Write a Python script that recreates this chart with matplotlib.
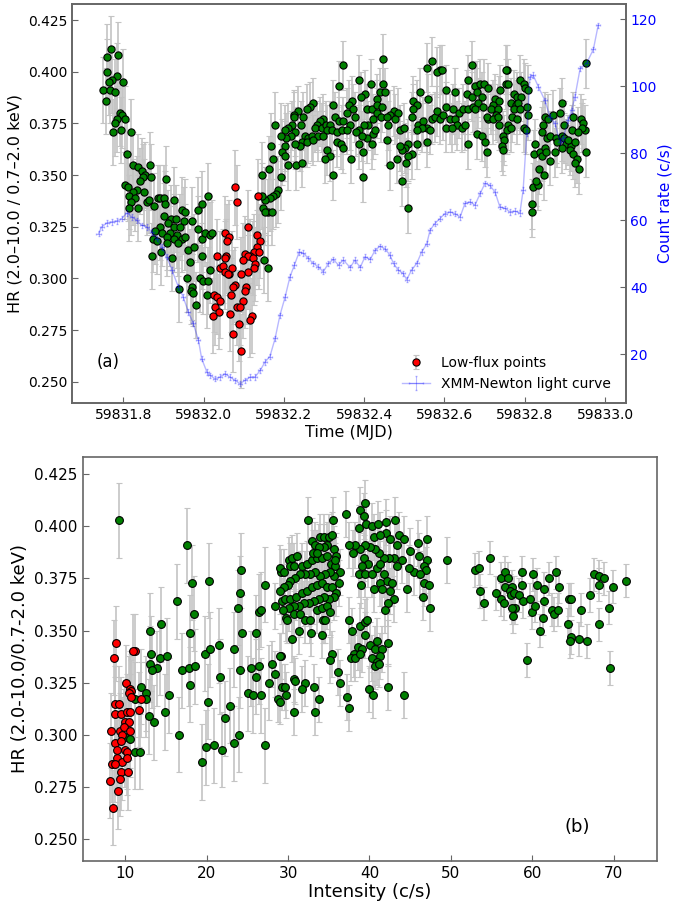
import numpy as np
import matplotlib.pyplot as plt

T0 = 59831.0  # times below are days after MJD 59831

# XMM-Newton light curve: (days after T0, count rate c/s)
lc = np.array([
    [.738, 56.0], [.746, 58.0], [.759, 59.2], [.771, 59.5], [.784, 59.8], [.796, 60.5],
    [.809, 62.2], [.821, 61.0], [.833, 60.0], [.846, 58.5], [.858, 58.0], [.871, 56.5],
    [.883, 54.5], [.896, 52.0], [.908, 49.1], [.921, 45.1], [.937, 40.1], [.949, 37.1],
    [.962, 32.6], [.974, 29.2], [.987, 24.2], [.995, 18.7], [1.008, 14.7], [1.016, 13.7],
    [1.028, 12.7], [1.041, 13.2], [1.053, 14.2], [1.066, 13.2], [1.078, 12.2], [1.091, 11.2],
    [1.103, 12.2], [1.116, 13.2], [1.128, 13.2], [1.141, 15.2], [1.153, 17.7], [1.165, 19.3],
    [1.178, 24.7], [1.190, 31.6], [1.203, 37.1], [1.215, 43.1], [1.226, 46.6], [1.238, 50.5],
    [1.248, 50.2], [1.261, 48.6], [1.273, 47.1], [1.286, 46.1], [1.298, 44.6], [1.311, 47.1],
    [1.323, 48.3], [1.336, 46.6], [1.348, 48.1], [1.365, 45.9], [1.377, 48.1], [1.390, 45.9],
    [1.402, 49.1], [1.415, 48.3], [1.427, 51.0], [1.439, 52.2], [1.452, 51.5], [1.464, 49.6],
    [1.473, 47.1], [1.485, 45.1], [1.497, 44.1], [1.506, 42.3], [1.518, 45.1], [1.531, 47.1],
    [1.543, 50.5], [1.556, 53.0], [1.564, 57.0], [1.576, 59.0], [1.589, 60.5], [1.601, 62.0],
    [1.614, 62.5], [1.626, 62.0], [1.639, 61.0], [1.651, 65.0], [1.664, 65.5], [1.676, 64.5],
    [1.689, 68.0], [1.701, 71.0], [1.713, 70.4], [1.726, 68.4], [1.738, 64.0], [1.751, 63.5],
    [1.763, 62.5], [1.776, 62.7], [1.788, 62.2], [1.796, 69.0], [1.805, 86.0], [1.813, 102.8],
    [1.821, 103.3], [1.834, 99.8], [1.850, 95.8], [1.863, 90.8], [1.875, 88.9], [1.888, 83.4],
    [1.896, 84.4], [1.908, 89.9], [1.917, 92.8], [1.925, 96.8], [1.938, 105.3], [1.954, 106.8],
    [1.971, 111.0], [1.983, 118.2],
])

# Panel (a): hardness ratio vs time, (days after T0, HR)
a_green = np.array([
    [.769, .411], [.760, .407], [.786, .408], [.758, .400], [.784, .398], [.771, .396],
    [.764, .395], [.800, .395], [.750, .391], [.766, .391], [.779, .390], [.756, .386],
    [.791, .380], [.796, .379], [.784, .377], [.803, .377], [.778, .375], [.793, .372],
    [.774, .371], [.818, .371], [.808, .360], [.823, .355], [.836, .354], [.867, .355],
    [.846, .352], [.854, .350], [.850, .349], [.869, .349], [.906, .348], [.842, .347],
    [.804, .345], [.811, .344], [.833, .343], [.825, .342], [.852, .342], [.815, .340],
    [.829, .339], [.819, .337], [.858, .337], [.865, .338], [.886, .339], [.891, .339],
    [.902, .339], [.927, .338], [.877, .335], [.904, .336], [.813, .334], [.837, .334],
    [.947, .333], [.954, .332], [.985, .333], [.997, .336], [1.012, .340], [.900, .330],
    [.919, .329], [.930, .329], [.950, .328], [.972, .328], [.912, .327], [.925, .325],
    [.941, .325], [.891, .325], [.879, .323], [.896, .322], [.916, .322], [.933, .321],
    [.908, .320], [.875, .319], [.883, .318], [.925, .319], [.945, .319], [.954, .320],
    [.985, .324], [.995, .319], [1.004, .322], [1.016, .321], [1.020, .322], [.935, .317],
    [.962, .314], [.977, .315], [.908, .317], [.894, .313], [.871, .311], [.922, .310],
    [.966, .308], [.995, .311], [1.016, .304], [.958, .300], [.970, .296], [.991, .300],
    [.999, .299], [1.012, .299], [.939, .295], [.969, .294], [.974, .293], [1.008, .292],
    [.980, .287],
    [1.348, .403], [1.338, .393], [1.323, .384], [1.273, .385], [1.265, .383], [1.257, .382],
    [1.234, .381], [1.226, .379], [1.224, .378], [1.248, .378], [1.243, .374], [1.219, .374],
    [1.211, .373], [1.203, .372], [1.228, .371], [1.218, .369], [1.204, .368], [1.193, .369],
    [1.178, .374], [1.298, .377], [1.290, .376], [1.282, .374], [1.278, .373], [1.294, .373],
    [1.304, .374], [1.315, .374], [1.327, .378], [1.336, .376], [1.307, .372], [1.319, .372],
    [1.332, .371], [1.344, .372], [1.332, .366], [1.342, .365], [1.346, .363], [1.253, .369],
    [1.261, .368], [1.269, .369], [1.286, .369], [1.298, .369], [1.244, .366], [1.240, .364],
    [1.228, .365], [1.257, .366], [1.273, .367], [1.168, .364], [1.203, .364], [1.194, .361],
    [1.203, .359], [1.174, .358], [1.307, .362], [1.315, .359], [1.302, .358], [1.211, .355],
    [1.229, .355], [1.244, .356], [1.163, .353], [1.323, .350], [1.193, .349], [1.145, .350],
    [1.185, .343], [1.180, .341], [1.174, .340], [1.165, .339], [1.153, .338], [1.145, .340],
    [1.149, .334], [1.161, .332], [1.153, .332], [1.170, .332], [1.151, .309], [1.160, .305],
    [1.448, .406], [1.568, .405], [1.556, .402], [1.589, .401], [1.581, .400], [1.593, .401],
    [1.668, .403], [1.388, .396], [1.416, .394], [1.446, .394], [1.439, .390], [1.452, .390],
    [1.402, .389], [1.391, .388], [1.431, .387], [1.539, .390], [1.560, .387], [1.605, .391],
    [1.626, .390], [1.655, .389], [1.668, .388], [1.659, .396], [1.680, .393], [1.521, .386],
    [1.531, .384], [1.522, .382], [1.369, .386], [1.361, .384], [1.373, .382], [1.356, .380],
    [1.377, .378], [1.365, .374], [1.348, .376], [1.406, .382], [1.419, .382], [1.433, .384],
    [1.444, .383], [1.431, .380], [1.441, .378], [1.421, .377], [1.410, .374], [1.400, .374],
    [1.386, .372], [1.380, .371], [1.356, .372], [1.421, .370], [1.473, .381], [1.485, .380],
    [1.464, .379], [1.477, .377], [1.489, .372], [1.498, .373], [1.460, .374], [1.456, .378],
    [1.427, .372], [1.406, .368], [1.419, .365], [1.394, .369], [1.518, .378], [1.535, .374],
    [1.547, .376], [1.557, .373], [1.568, .377], [1.576, .378], [1.589, .377], [1.581, .381],
    [1.605, .383], [1.622, .382], [1.635, .380], [1.647, .382], [1.659, .382], [1.672, .383],
    [1.597, .379], [1.614, .377], [1.626, .377], [1.630, .374], [1.643, .373], [1.651, .374],
    [1.605, .373], [1.618, .373], [1.564, .372], [1.543, .373], [1.531, .372], [1.458, .367],
    [1.510, .365], [1.502, .363], [1.493, .362], [1.531, .365], [1.518, .360], [1.510, .359],
    [1.504, .356], [1.489, .364], [1.481, .358], [1.464, .355], [1.386, .365], [1.396, .361],
    [1.366, .358], [1.557, .366], [1.659, .365], [1.396, .349], [1.493, .347], [1.508, .334],
    [1.680, .370],
    [1.676, .393], [1.689, .394], [1.699, .394], [1.709, .392], [1.680, .390], [1.693, .388],
    [1.683, .385], [1.697, .383], [1.676, .382], [1.738, .391], [1.726, .387], [1.736, .386],
    [1.722, .384], [1.716, .382], [1.733, .382], [1.728, .379], [1.709, .377], [1.705, .378],
    [1.722, .377], [1.734, .378], [1.736, .374], [1.757, .401], [1.753, .401], [1.753, .394],
    [1.759, .394], [1.788, .396], [1.797, .394], [1.801, .392], [1.809, .391], [1.772, .389],
    [1.780, .388], [1.791, .388], [1.766, .385], [1.777, .384], [1.784, .385], [1.774, .382],
    [1.788, .382], [1.769, .378], [1.780, .377], [1.805, .383], [1.807, .379], [1.759, .374],
    [1.755, .372], [1.747, .369], [1.749, .367], [1.744, .364], [1.747, .362], [1.766, .373],
    [1.799, .373], [1.802, .372], [1.693, .369], [1.701, .366], [1.705, .361], [1.826, .365],
    [1.824, .360], [1.838, .361], [1.842, .359], [1.836, .353], [1.849, .350], [1.821, .344],
    [1.832, .345], [1.827, .347], [1.819, .336], [1.819, .332], [1.850, .378], [1.846, .374],
    [1.857, .377], [1.871, .379], [1.894, .385], [1.888, .380], [1.921, .378], [1.940, .377],
    [1.946, .375], [1.950, .372], [1.942, .373], [1.842, .371], [1.855, .368], [1.863, .369],
    [1.877, .368], [1.894, .369], [1.880, .366], [1.899, .368], [1.904, .365], [1.915, .364],
    [1.892, .363], [1.875, .361], [1.863, .357], [1.850, .363], [1.852, .361], [1.913, .362],
    [1.919, .360], [1.929, .358], [1.925, .356], [1.935, .353], [1.899, .374], [1.917, .372],
    [1.932, .371], [1.909, .367], [1.925, .366], [1.952, .361], [1.952, .404],
])

a_red = np.array([
    [1.077, .344], [1.084, .337], [1.135, .340], [1.111, .325], [1.052, .322], [1.062, .320],
    [1.058, .318], [1.132, .321], [1.141, .318], [1.034, .311], [1.055, .311], [1.053, .310],
    [1.132, .315], [1.126, .313], [1.102, .312], [1.116, .311], [1.111, .311], [1.124, .310],
    [1.138, .313], [1.097, .309], [1.040, .305], [1.047, .306], [1.063, .302], [1.070, .305],
    [1.128, .307], [1.126, .305], [1.110, .303], [1.093, .302], [1.052, .303], [1.060, .302],
    [1.077, .297], [1.072, .296], [1.105, .296], [1.027, .292], [1.033, .291], [1.068, .292],
    [1.102, .294], [1.041, .289], [1.028, .286], [1.037, .284], [1.024, .282], [1.099, .289],
    [1.082, .286], [1.091, .286], [1.066, .283], [1.121, .282], [1.116, .280], [1.087, .278],
    [1.072, .273], [1.092, .265],
])

# Panel (b): hardness ratio vs intensity, (c/s, HR)
b_green = np.array([
    [9.27, .403], [17.59, .391], [18.20, .373], [20.25, .374], [16.36, .364], [18.41, .358],
    [18.00, .349], [14.39, .353], [13.00, .350], [13.20, .339], [13.08, .334], [13.90, .332],
    [14.31, .337], [15.13, .338], [13.28, .331], [19.76, .339], [20.46, .341], [21.48, .343],
    [23.33, .341], [24.23, .379], [24.15, .368], [23.86, .361], [24.35, .349], [26.00, .349],
    [26.40, .359], [26.73, .360], [27.14, .372], [28.45, .362], [29.07, .378], [29.27, .364],
    [29.07, .338], [24.15, .331], [25.38, .332], [26.40, .333], [26.00, .328], [28.04, .334],
    [28.37, .329], [27.63, .325], [21.69, .328], [16.97, .331], [17.79, .332], [18.53, .333],
    [18.00, .324], [11.97, .323], [12.59, .320], [12.59, .317], [15.42, .319], [14.92, .311],
    [13.49, .306], [12.87, .309], [20.17, .316], [22.92, .314], [22.22, .308], [16.56, .300],
    [19.97, .294], [20.95, .295], [21.89, .293], [23.33, .296], [23.94, .300], [27.22, .295],
    [19.43, .287], [25.09, .320], [25.67, .319], [26.73, .319], [28.78, .317], [29.19, .323],
    [11.15, .292], [11.85, .292], [10.00, .299], [10.62, .298], [11.23, .317],
    [32.43, .403], [35.51, .403], [37.15, .406], [39.49, .411], [38.87, .408], [39.28, .405],
    [38.67, .399], [39.61, .401], [40.31, .400], [41.00, .401], [42.07, .402], [43.18, .403],
    [42.07, .397], [40.51, .395], [41.33, .396], [42.56, .394], [43.59, .396], [44.28, .394],
    [43.38, .391], [44.94, .388], [45.92, .392], [47.07, .394], [46.05, .386], [47.07, .384],
    [46.66, .381], [46.99, .379], [45.43, .378], [46.25, .377], [44.82, .380], [43.99, .384],
    [43.38, .381], [42.97, .385], [42.36, .385], [41.74, .385], [41.13, .387], [40.72, .389],
    [40.10, .390], [39.49, .391], [38.87, .389], [38.26, .391], [37.44, .391], [37.97, .387],
    [39.28, .385], [39.77, .382], [39.08, .381], [38.67, .377], [39.49, .377], [40.31, .377],
    [40.92, .380], [41.33, .382], [41.74, .377], [42.15, .374], [42.77, .373], [41.33, .373],
    [40.59, .370], [41.54, .370], [42.56, .369], [42.97, .365], [42.23, .363], [41.95, .360],
    [44.61, .370], [46.66, .373], [46.58, .366], [47.28, .372], [47.40, .361], [38.95, .372],
    [37.44, .355], [37.85, .350], [38.87, .352], [39.49, .354], [39.69, .355], [39.49, .348],
    [38.54, .342], [39.08, .341], [38.13, .339], [37.72, .337], [38.26, .337], [38.87, .339],
    [40.10, .343], [40.92, .345], [40.72, .341], [41.54, .341], [42.23, .344], [41.33, .338],
    [40.31, .337], [40.92, .335], [40.72, .333], [41.13, .334], [35.39, .339], [35.18, .336],
    [36.12, .330], [36.41, .325], [37.23, .318], [37.44, .313], [39.90, .322], [40.43, .319],
    [42.23, .323], [44.28, .319],
    [29.03, .380], [29.52, .378], [30.06, .384], [30.47, .385], [31.08, .386], [31.70, .381],
    [32.31, .382], [32.93, .384], [33.54, .385], [34.16, .385], [34.77, .386], [35.26, .382],
    [35.80, .381], [36.33, .378], [36.21, .373], [35.67, .376], [35.10, .378], [34.57, .377],
    [33.95, .376], [33.34, .378], [32.64, .377], [32.11, .377], [31.49, .377], [30.88, .375],
    [30.26, .374], [29.93, .372], [29.44, .371], [29.03, .369], [29.65, .365], [30.26, .365],
    [31.00, .366], [31.70, .368], [32.31, .369], [32.93, .371], [33.54, .372], [34.16, .373],
    [34.77, .371], [35.39, .371], [35.92, .368], [35.59, .366], [34.98, .365], [34.36, .366],
    [33.75, .365], [33.13, .364], [32.52, .363], [31.90, .363], [31.29, .362], [30.67, .362],
    [30.06, .361], [29.36, .360], [29.77, .356], [30.67, .358], [31.49, .358], [32.11, .355],
    [32.64, .355], [33.54, .360], [34.16, .361], [34.77, .362], [34.28, .355], [34.57, .355],
    [35.10, .359], [31.29, .350], [32.80, .349], [34.16, .348], [30.47, .346], [29.85, .355],
    [32.93, .393], [33.34, .391], [33.87, .395], [34.36, .395], [34.98, .395], [35.39, .396],
    [34.77, .391], [34.36, .390], [33.75, .390], [33.05, .387], [33.54, .387], [35.59, .389],
    [35.92, .386], [35.80, .384], [30.26, .381], [30.75, .381],
    [29.03, .338], [29.65, .323], [30.75, .327], [30.83, .326], [32.11, .325], [33.13, .323],
    [29.77, .319], [31.65, .322], [33.75, .317], [29.03, .316], [30.67, .311], [33.34, .311],
    [49.53, .384],
    [53.02, .379], [53.43, .380], [53.63, .369], [54.04, .363], [54.86, .385], [55.60, .368],
    [56.17, .365], [56.50, .363], [56.17, .375], [56.71, .378], [57.00, .375], [56.71, .371],
    [57.53, .371], [57.32, .369], [57.40, .367], [57.73, .368], [58.35, .367], [57.94, .361],
    [57.53, .361], [57.65, .357], [58.76, .378], [58.76, .372], [58.88, .364], [59.78, .365],
    [60.07, .377], [59.99, .359], [60.40, .362], [60.60, .372], [61.50, .370], [61.50, .364],
    [61.34, .356], [61.01, .350], [62.12, .375], [62.45, .360], [62.73, .358], [62.98, .378],
    [63.14, .360], [63.35, .371], [64.37, .353], [64.50, .365], [64.82, .365], [64.78, .347],
    [64.62, .345], [65.73, .346], [66.75, .345], [66.01, .360], [67.16, .367], [67.57, .377],
    [68.19, .376], [68.19, .372], [68.88, .375], [68.19, .353], [69.42, .361], [69.95, .371],
    [71.47, .374], [59.37, .336], [69.62, .332],
])

b_red = np.array([
    [8.90, .344], [8.57, .337], [11.15, .340], [10.95, .340], [10.13, .325], [10.62, .322],
    [10.74, .321], [10.41, .320], [10.74, .318], [8.77, .315], [9.18, .315], [8.69, .310],
    [9.51, .310], [10.21, .311], [10.62, .311], [11.64, .312], [11.97, .317], [8.24, .302],
    [9.39, .302], [10.00, .306], [10.41, .306], [9.80, .304], [9.59, .300], [10.62, .302],
    [8.77, .296], [9.51, .297], [8.94, .293], [9.92, .293], [10.21, .292], [8.36, .286],
    [8.98, .289], [9.59, .287], [10.21, .289], [9.51, .282], [10.33, .282], [8.12, .278],
    [9.10, .273], [8.45, .265], [9.39, .279], [8.77, .286],
])

# typical HR uncertainties per regime
ERR_DIP = 0.016
ERR_HIGH = 0.012
ERR_RED = 0.018
ERR_B_LOW = 0.018
ERR_B_MID = 0.011
ERR_B_HIGH = 0.008

GREEN = "green"
RED = "red"
BAR = "#c4c4c4"
SPINE = "#666666"

fig = plt.figure(figsize=(6.73, 9.08), dpi=100)

# ---- panel (a)
ax1 = fig.add_axes([0.107, 0.556, 0.823, 0.4395])
ax2 = ax1.twinx()

err_a = np.where(a_green[:, 0] < 1.2, ERR_DIP, ERR_HIGH)
ax1.errorbar(T0 + a_green[:, 0], a_green[:, 1], yerr=err_a, fmt="o", ms=5.2,
             mfc=GREEN, mec="black", mew=0.8, ecolor=BAR, elinewidth=1.2, capsize=2.5)
ax1.errorbar(T0 + a_red[:, 0], a_red[:, 1], yerr=ERR_RED, fmt="o", ms=5.2,
             mfc=RED, mec="black", mew=0.8, ecolor=BAR, elinewidth=1.2, capsize=2.5,
             label="Low-flux points")

ax2.errorbar(T0 + lc[:, 0], lc[:, 1], xerr=0.005, yerr=0.8, fmt="-", color="blue",
             alpha=0.28, lw=1, elinewidth=0.8, capsize=1, label="XMM-Newton light curve")

ax1.set_xlim(59831.672, 59833.052)
ax1.set_ylim(0.2397, 0.4327)
ax2.set_ylim(5.4, 124.5)
ax1.set_xticks([59831.8, 59832.0, 59832.2, 59832.4, 59832.6, 59832.8, 59833.0])
ax1.set_xticklabels(["59831.8", "59832.0", "59832.2", "59832.4", "59832.6", "59832.8", "59833.0"])
ax1.set_yticks([0.250, 0.275, 0.300, 0.325, 0.350, 0.375, 0.400, 0.425])
ax1.set_yticklabels(["0.250", "0.275", "0.300", "0.325", "0.350", "0.375", "0.400", "0.425"])
ax2.set_yticks([20, 40, 60, 80, 100, 120])

ax1.set_xlabel("Time (MJD)", fontsize=11.5, labelpad=2)
ax1.set_ylabel("HR (2.0\u201310.0 / 0.7\u20132.0 keV)", fontsize=11.5)
ax2.set_ylabel("Count rate (c/s)", fontsize=11, color="blue", labelpad=1)
ax1.tick_params(direction="in", labelsize=10, length=4, color=SPINE)
ax2.tick_params(direction="in", labelsize=10, length=4, color=SPINE, labelcolor="blue", pad=3)
for ax in (ax1, ax2):
    for s in ax.spines.values():
        s.set_color(SPINE)
        s.set_linewidth(1.2)
ax1.text(0.045, 0.09, "(a)", transform=ax1.transAxes, fontsize=12)

h1, l1 = ax1.get_legend_handles_labels()
h2, l2 = ax2.get_legend_handles_labels()
ax2.legend(h1 + h2, l1 + l2, loc="lower right", frameon=False, fontsize=10,
           bbox_to_anchor=(0.995, 0.0))

# ---- panel (b)
axb = fig.add_axes([0.1229, 0.0521, 0.8529, 0.4443])
err_b = np.where(b_green[:, 0] < 28, ERR_B_LOW,
                 np.where(b_green[:, 0] < 50, ERR_B_MID, ERR_B_HIGH))
axb.errorbar(b_green[:, 0], b_green[:, 1], yerr=err_b, fmt="o", ms=5.6,
             mfc=GREEN, mec="black", mew=0.8, ecolor=BAR, elinewidth=1.2, capsize=2.5)
axb.errorbar(b_red[:, 0], b_red[:, 1], yerr=ERR_RED, fmt="o", ms=5.6,
             mfc=RED, mec="black", mew=0.8, ecolor=BAR, elinewidth=1.2, capsize=2.5)

axb.set_xlim(4.76, 75.3)
axb.set_ylim(0.2397, 0.4331)
axb.set_xticks([10, 20, 30, 40, 50, 60, 70])
axb.set_yticks([0.250, 0.275, 0.300, 0.325, 0.350, 0.375, 0.400, 0.425])
axb.set_yticklabels(["0.250", "0.275", "0.300", "0.325", "0.350", "0.375", "0.400", "0.425"])
axb.set_xlabel("Intensity (c/s)", fontsize=13, labelpad=2)
axb.set_ylabel("HR (2.0-10.0/0.7-2.0 keV)", fontsize=13)
axb.tick_params(direction="in", labelsize=11, length=4, color=SPINE)
for s in axb.spines.values():
    s.set_color(SPINE)
    s.set_linewidth(1.2)
axb.text(0.84, 0.07, "(b)", transform=axb.transAxes, fontsize=13)

fig.savefig("out.png", dpi=100)
